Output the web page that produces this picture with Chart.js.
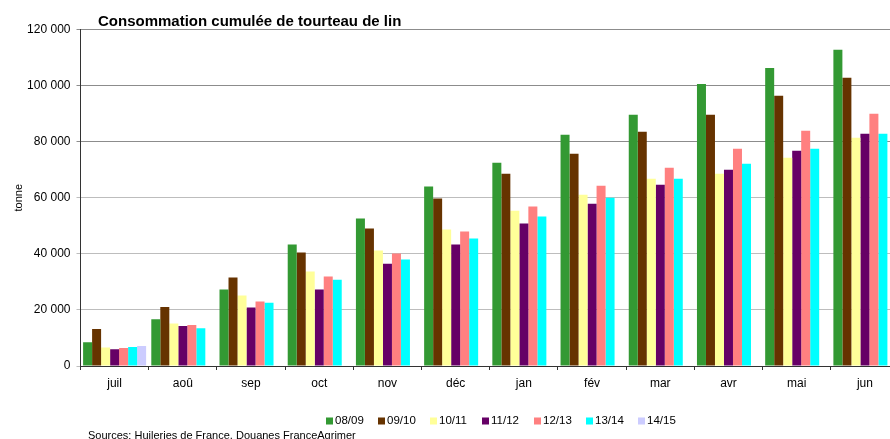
<!DOCTYPE html>
<html lang="fr">
<head>
<meta charset="utf-8">
<title>Consommation cumulée de tourteau de lin</title>
<script src="https://cdn.jsdelivr.net/npm/chart.js@4.4.1/dist/chart.umd.min.js"></script>
<style>
  html, body { margin: 0; padding: 0; overflow: hidden; background: #fff; }
  canvas { display: block; }
</style>
</head>
<body>
<canvas id="chart" width="900" height="439"></canvas>
<script>
// Mois de la campagne (juillet → juin)
const months = ['juil', 'aoû', 'sep', 'oct', 'nov', 'déc', 'jan', 'fév', 'mar', 'avr', 'mai', 'jun'];

// Consommation cumulée, en tonnes, par campagne
const c0809 = [8500, 16700, 27300, 43300, 52600, 64000, 72500, 82500, 89600, 100600, 106300, 112800];
const c0910 = [13200, 21000, 31600, 40500, 49000, 59700, 68600, 75700, 83500, 89600, 96400, 102800];
const c1011 = [6600, 15200, 25100, 33700, 41200, 48700, 55400, 61100, 66800, 68600, 74300, 81400];
const c1112 = [6000, 14300, 20900, 27300, 36500, 43300, 50800, 57900, 64600, 70000, 76800, 82800];
const c1213 = [6400, 14600, 23000, 31900, 40100, 48000, 56900, 64300, 70700, 77500, 83900, 90000];
const c1314 = [6800, 13500, 22600, 30800, 38000, 45500, 53300, 60000, 66800, 72100, 77500, 82800];
const c1415 = [7100, null, null, null, null, null, null, null, null, null, null, null];

const campaigns = ['08/09', '09/10', '10/11', '11/12', '12/13', '13/14', '14/15'];
const colors = ['#339933', '#663300', '#FFFF99', '#660066', '#FF8080', '#00FFFF', '#CCCCFF'];
const series = [c0809, c0910, c1011, c1112, c1213, c1314, c1415];

// Axe des ordonnées
const yMax = 120000;
const yStep = 20000;

const FONT = '"Liberation Sans", Arial, sans-serif';

const fmt = v => String(v).replace(/\B(?=(\d{3})+(?!\d))/g, ' ');

// Titre, légende et source dessinés autour de la zone du graphique
const decorations = {
  id: 'decorations',
  afterDraw(chart) {
    const ctx = chart.ctx;
    ctx.save();
    // titre
    ctx.fillStyle = '#000';
    ctx.font = 'bold 15px ' + FONT;
    ctx.textAlign = 'left';
    ctx.textBaseline = 'alphabetic';
    ctx.fillText('Consommation cumulée de tourteau de lin', 98, 25.5);

    // légende
    ctx.font = '11.5px ' + FONT;
    ctx.textBaseline = 'middle';
    let x = 326;
    const y = 421;
    chart.data.datasets.forEach(ds => {
      ctx.fillStyle = ds.backgroundColor;
      ctx.fillRect(x, y - 3.5, 7, 7);
      ctx.fillStyle = '#000';
      ctx.fillText(ds.label, x + 9, y);
      x += 52;
    });

    // source
    ctx.font = '11px ' + FONT;
    ctx.textBaseline = 'alphabetic';
    ctx.fillText('Sources: Huileries de France, Douanes FranceAgrimer', 88, 439);
    ctx.restore();
  }
};

new Chart(document.getElementById('chart'), {
  type: 'bar',
  data: {
    labels: months,
    datasets: series.map((d, i) => ({
      label: campaigns[i],
      data: d,
      backgroundColor: colors[i],
      borderWidth: 0,
      barPercentage: 1,
      categoryPercentage: 0.924
    }))
  },
  options: {
    responsive: false,
    animation: false,
    devicePixelRatio: 1,
    layout: { padding: { top: 29.5, right: 1, bottom: 0, left: 0 } },
    plugins: {
      legend: { display: false },
      title: { display: false },
      tooltip: { enabled: false }
    },
    scales: {
      x: {
        grid: {
          display: true,
          drawOnChartArea: false,
          drawTicks: true,
          tickLength: 4,
          color: '#333'
        },
        border: { display: true, color: '#333', width: 1 },
        ticks: {
          color: '#000',
          font: { family: FONT, size: 12 },
          padding: 6,
          maxRotation: 0
        },
        afterFit(scale) { scale.height = 73; }
      },
      y: {
        min: 0,
        max: yMax,
        ticks: {
          stepSize: yStep,
          color: '#000',
          font: { family: FONT, size: 12 },
          padding: 6,
          callback: v => fmt(v)
        },
        grid: {
          drawTicks: true,
          tickLength: 4,
          color: c => (c.tick && c.tick.value >= 80000 ? '#8c8c8c' : '#bdbdbd')
        },
        border: { display: true, color: '#333', width: 1 },
        title: {
          display: true,
          text: 'tonne',
          color: '#000',
          font: { family: FONT, size: 11 },
          padding: { top: 12, bottom: 0 }
        },
        afterFit(scale) { scale.width = 80.5; }
      }
    }
  },
  plugins: [decorations]
});
</script>
</body>
</html>
